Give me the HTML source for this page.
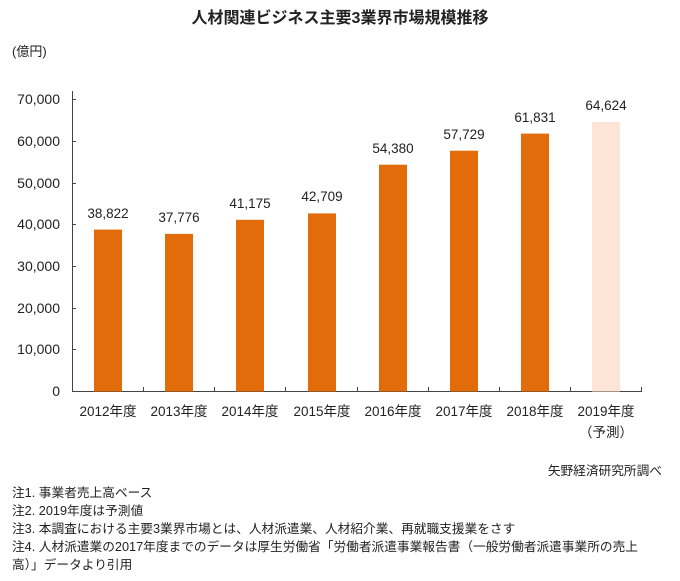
<!DOCTYPE html>
<html><head><meta charset="utf-8"><style>
body{margin:0;background:#fff;}
svg text{font-family:"Liberation Sans","Noto Sans CJK JP",sans-serif;fill:#222;}
</style></head><body>
<svg width="680" height="576" viewBox="0 0 680 576" xmlns="http://www.w3.org/2000/svg">
<text x="340" y="23" text-anchor="middle" font-size="16" font-weight="bold" fill="#333">人材関連ビジネス主要3業界市場規模推移</text>
<text x="12" y="56" font-size="13">(億円)</text>
<g font-size="14" text-anchor="end">
<text x="60" y="104">70,000</text>
<text x="60" y="146">60,000</text>
<text x="60" y="188">50,000</text>
<text x="60" y="229">40,000</text>
<text x="60" y="271">30,000</text>
<text x="60" y="313">20,000</text>
<text x="60" y="354">10,000</text>
<text x="60" y="396">0</text>
</g>
<g stroke="#444" stroke-width="1">
<line x1="72.5" y1="91" x2="72.5" y2="391.5"/>
<line x1="72" y1="391.5" x2="642" y2="391.5"/>
<line x1="72" y1="99.5" x2="76" y2="99.5"/>
<line x1="72" y1="141.5" x2="76" y2="141.5"/>
<line x1="72" y1="183.5" x2="76" y2="183.5"/>
<line x1="72" y1="224.5" x2="76" y2="224.5"/>
<line x1="72" y1="266.5" x2="76" y2="266.5"/>
<line x1="72" y1="308.5" x2="76" y2="308.5"/>
<line x1="72" y1="349.5" x2="76" y2="349.5"/>
<line x1="143.5" y1="387" x2="143.5" y2="391"/>
<line x1="214.5" y1="387" x2="214.5" y2="391"/>
<line x1="285.5" y1="387" x2="285.5" y2="391"/>
<line x1="357.5" y1="387" x2="357.5" y2="391"/>
<line x1="428.5" y1="387" x2="428.5" y2="391"/>
<line x1="499.5" y1="387" x2="499.5" y2="391"/>
<line x1="570.5" y1="387" x2="570.5" y2="391"/>
<line x1="641.5" y1="387" x2="641.5" y2="391"/>
</g>
<g fill="#E36C0A">
<rect x="94" y="229.6" width="28" height="161.9"/>
<rect x="165" y="233.9" width="28" height="157.6"/>
<rect x="236" y="219.8" width="28" height="171.7"/>
<rect x="308" y="213.4" width="28" height="178.1"/>
<rect x="379" y="164.7" width="28" height="226.8"/>
<rect x="450" y="150.7" width="28" height="240.8"/>
<rect x="521" y="133.6" width="28" height="257.9"/>
</g>
<rect x="592" y="122" width="28" height="269.5" fill="#FCE4D6"/>
<g font-size="13.5" text-anchor="middle">
<text x="108" y="218">38,822</text>
<text x="179" y="222">37,776</text>
<text x="250" y="208">41,175</text>
<text x="322" y="201">42,709</text>
<text x="393" y="153">54,380</text>
<text x="464" y="139">57,729</text>
<text x="535" y="122">61,831</text>
<text x="606" y="110">64,624</text>
</g>
<g font-size="13.5" text-anchor="middle">
<text x="108" y="416">2012年度</text>
<text x="179" y="416">2013年度</text>
<text x="250" y="416">2014年度</text>
<text x="322" y="416">2015年度</text>
<text x="393" y="416">2016年度</text>
<text x="464" y="416">2017年度</text>
<text x="535" y="416">2018年度</text>
<text x="606" y="416">2019年度</text>
<text x="606" y="437">（予測）</text>
</g>
<g font-size="12.7">
<text x="662" y="475" text-anchor="end">矢野経済研究所調べ</text>
<text x="12" y="497">注1. 事業者売上高ベース</text>
<text x="12" y="515">注2. 2019年度は予測値</text>
<text x="12" y="533">注3. 本調査における主要3業界市場とは、人材派遣業、人材紹介業、再就職支援業をさす</text>
<text x="12" y="551">注4. 人材派遣業の2017年度までのデータは厚生労働省「労働者派遣事業報告書（一般労働者派遣事業所の売上</text>
<text x="12" y="569">高）」データより引用</text>
</g>
</svg>
</body></html>
